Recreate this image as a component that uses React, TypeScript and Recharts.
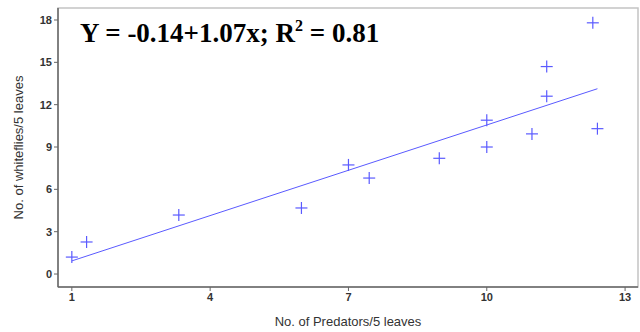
import { ScatterChart, Scatter, XAxis, YAxis, ReferenceArea, Label } from "recharts"

// Observed points (predators vs whiteflies per 5 leaves)
const predators = [1, 1.32, 3.32, 5.98, 7, 7.45, 8.97, 10, 10, 10.98, 11.3, 11.3, 12.3, 12.4]
const whiteflies = [1.2, 2.27, 4.18, 4.68, 7.73, 6.8, 8.2, 10.9, 9.0, 9.93, 14.7, 12.6, 17.8, 10.3]

// Fitted line endpoints as drawn
const fitX = [1, 12.4]
const fitY = [0.93, 13.13]

const xTicks = [1, 4, 7, 10, 13]
const yTicks = [0, 3, 6, 9, 12, 15, 18]

const points = predators.map((x, i) => ({ x, y: whiteflies[i] }))
const fitLine = fitX.map((x, i) => ({ x, y: fitY[i] }))

const BLUE = "#5a5aff"

const Cross = (props: any) => {
  const { cx, cy } = props
  if (cx == null || cy == null) return null
  return (
    <g stroke={BLUE} strokeWidth={1.2}>
      <line x1={cx - 6} y1={cy} x2={cx + 6} y2={cy} />
      <line x1={cx} y1={cy - 6} x2={cx} y2={cy + 6} />
    </g>
  )
}

const tickStyle = { fontSize: 11, fill: "#333", fontWeight: "bold", fontFamily: "Liberation Sans, Arial, sans-serif" }

export default function App() {
  return (
    <div style={{ position: "absolute", left: 0, top: 0, width: 640, height: 332, background: "#fff" }}>
      <ScatterChart width={640} height={332} margin={{ top: 8, right: 2, bottom: 0, left: 8 }}>
        <ReferenceArea
          x1={0.7}
          x2={13.28}
          y1={-0.92}
          y2={18.85}
          fill="none"
          stroke="#c4c4c4"
          strokeWidth={1.5}
          ifOverflow="visible"
        />
        <XAxis
          type="number"
          dataKey="x"
          domain={[0.7, 13.28]}
          ticks={xTicks}
          allowDataOverflow
          height={45}
          tick={tickStyle}
          tickSize={4}
          axisLine={{ stroke: "#666", strokeWidth: 1.5 }}
          tickLine={{ stroke: "#666" }}
        >
          <Label
            value="No. of Predators/5 leaves"
            position="insideBottom"
            offset={6}
            style={{ fontSize: 13, fill: "#333", fontFamily: "Liberation Sans, Arial, sans-serif" }}
          />
        </XAxis>
        <YAxis
          type="number"
          dataKey="y"
          domain={[-0.92, 18.85]}
          ticks={yTicks}
          allowDataOverflow
          width={50}
          tick={tickStyle}
          tickSize={4}
          axisLine={{ stroke: "#666", strokeWidth: 1.5 }}
          tickLine={{ stroke: "#666" }}
        >
          <Label
            value="No. of whiteflies/5 leaves"
            angle={-90}
            position="insideLeft"
            offset={10}
            style={{ textAnchor: "middle", fontSize: 13, fill: "#333", fontFamily: "Liberation Sans, Arial, sans-serif" }}
          />
        </YAxis>
        <Scatter
          data={fitLine}
          line={{ stroke: BLUE, strokeWidth: 1 }}
          shape={() => null}
          isAnimationActive={false}
        />
        <Scatter data={points} shape={<Cross />} isAnimationActive={false} />
      </ScatterChart>
      <div
        style={{
          position: "absolute",
          left: 80,
          top: 20,
          fontFamily: "Liberation Serif, Times New Roman, serif",
          fontWeight: "bold",
          fontSize: 27,
          color: "#000",
          whiteSpace: "nowrap",
          lineHeight: 1,
        }}
      >
        Y = -0.14+1.07x; R<sup style={{ fontSize: 16, verticalAlign: "11px", lineHeight: 0 }}>2</sup> = 0.81
      </div>
    </div>
  )
}
